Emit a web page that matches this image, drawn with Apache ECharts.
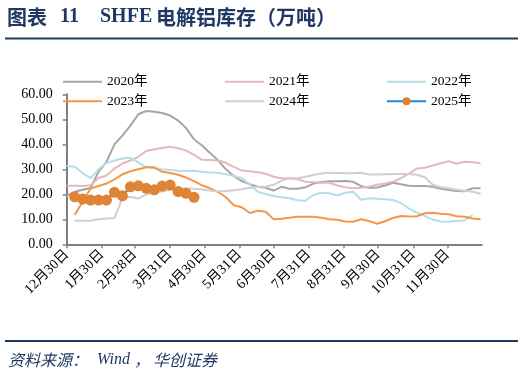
<!DOCTYPE html>
<html><head><meta charset="utf-8">
<script src="https://cdn.jsdelivr.net/npm/echarts@6/dist/echarts.min.js"></script>
<style>html,body{margin:0;padding:0;background:#fff}#c{width:524px;height:376px}</style>
</head><body><div id="c"></div>
<script>
// Weekly observation dates (common calendar grid)
const weekDates = ['2024-12-30','2025-01-06','2025-01-13','2025-01-20','2025-01-27','2025-02-03','2025-02-10','2025-02-17','2025-02-24',
'2025-03-03','2025-03-10','2025-03-17','2025-03-24','2025-03-31','2025-04-07','2025-04-14','2025-04-21','2025-04-28',
'2025-05-05','2025-05-12','2025-05-19','2025-05-26','2025-06-02','2025-06-09','2025-06-16','2025-06-23','2025-06-30',
'2025-07-07','2025-07-14','2025-07-21','2025-07-28','2025-08-04','2025-08-11','2025-08-18','2025-08-25',
'2025-09-01','2025-09-08','2025-09-15','2025-09-22','2025-09-29','2025-10-06','2025-10-13','2025-10-20','2025-10-27',
'2025-11-03','2025-11-10','2025-11-17','2025-11-24','2025-12-01','2025-12-08','2025-12-15','2025-12-22','2025-12-29'];

const tickDates = ['2024-12-30','2025-01-30','2025-02-28','2025-03-31','2025-04-30','2025-05-31','2025-06-30','2025-07-31','2025-08-31','2025-09-30','2025-10-31','2025-11-30'];
const tickLabels = ['12月30日','1月30日','2月28日','3月31日','4月30日','5月31日','6月30日','7月31日','8月31日','9月30日','10月31日','11月30日'];
const yTicks = [0,10,20,30,40,50,60];

const seriesNames = ['2020年','2021年','2022年','2023年','2024年','2025年'];

const y2020 = [19.5,21,21.8,22.5,29,33,40,43.5,47.5,52,53.3,53,52.5,51.5,49.5,46.5,42,39.5,36.5,33.7,30,27.3,25.3,24,23,22.6,21.5,23,22.2,22.2,22.8,24.3,24.9,25.2,25.2,25.3,25,23.3,22.5,22.7,23.5,24.6,24,23.4,23.3,23.3,23,22.2,21.7,21.3,21.2,22.4,22.4];
const y2021 = [23.4,23.4,23.3,23.6,26.5,27.5,30.3,32.3,33.5,35,37.3,38,38.5,39,38.4,37.5,35.8,33.8,33.7,33.5,32.6,31,29.5,29.2,28.8,28.2,27,26.4,26.4,26,25,24.8,24.6,24.6,23.5,22.8,22.4,22.6,23,23.8,24.3,25,26.5,28.3,30.3,30.6,31.5,32.4,33.2,32.2,33,32.8,32.4];
const y2022 = [31.3,31,28.5,26.5,30,32.5,33.5,34.3,34.6,32.8,30.8,30.4,30,29.7,29.4,29.3,29.4,29,28.7,28.6,28,27.3,26.5,23.8,21,20.1,19.3,18.8,18.4,17.6,17.4,19.7,20.6,20.4,19.5,20.6,21,17.8,18.4,18.2,18,17.7,16.5,14.3,12.7,11.3,9.9,9.1,9,9.3,9.5,11.7,null];
const y2023 = [null,11.7,17,22.3,23.3,24.3,26,28,29.2,30,30.8,30.8,29,28.5,27.8,26.7,25.3,23.6,22.4,21,18.8,15.6,14.8,12.5,13.4,13,10,10.2,10.6,11,11,11,10.6,10,9.8,9.1,9,10,9.3,8.2,9.2,10.5,11.3,11.1,11.2,12.4,12.6,12.2,12,11.2,11,10.3,10];
const y2024 = [null,9.4,9.4,9.4,10,10.3,10.5,18.5,19,18.3,20,20.6,21.2,21.8,22.2,22.4,22.2,21.9,21.5,21.2,21.3,21.6,22,22.6,23,23,23.8,25.5,26.4,26.4,27,27.7,28.3,28.6,28.5,28.4,28.4,28.6,27.9,27.9,28,28.1,28.1,28.1,27.8,26.8,23.8,22.8,22.4,21.8,21.4,21,20.2];
const y2025 = [null,19.0,18.1,17.7,17.7,17.7,20.8,19.4,23.0,23.4,22.4,21.8,23.3,23.7,21.1,20.4,18.8];

const seriesValues = [y2020,y2021,y2022,y2023,y2024,y2025];
const lineColors = ['#A6A6A6','#E6B9B8','#B7DEE8','#F79646','#CFCFCF','#1E88E5'];

// daily category axis from 12/30 to next 12/30
const days = [];
{
  const d = new Date(Date.UTC(2024,11,30));
  const end = Date.UTC(2025,11,30);
  while (d.getTime() <= end) { days.push(d.toISOString().slice(0,10)); d.setUTCDate(d.getUTCDate()+1); }
}
const labelMap = {}; tickDates.forEach((t,i)=>labelMap[t]=tickLabels[i]);
const isTick = (idx,val)=> labelMap[val] !== undefined;

const serif = "'Liberation Serif','Noto Sans CJK SC'";
const navy = '#1F3864';
const lineIcon = 'path://M0,0H39V2H0Z';

const series = seriesNames.map((name,k)=>{
  const s = {
    name, type:'line',
    data: seriesValues[k].map((v,i)=>[weekDates[i], v]),
    lineStyle:{color: lineColors[k], width:2},
    itemStyle:{color: lineColors[k]},
    symbol:'none', showSymbol:false, connectNulls:false, z: 2+k, animation:false
  };
  if (k === 5) {
    s.symbol = 'circle'; s.showSymbol = true; s.showAllSymbol = true; s.symbolSize = 11;
    s.itemStyle = {color:'#DF8334'};
    s.lineStyle = {color:'#1E88E5', width:2};
  }
  return s;
});

const legendItem = (name)=> name === '2025年' ? {name} : {name, icon: lineIcon};
const legendBase = (data,left)=>({
  data: data.map(legendItem), left, top:75, orient:'vertical', itemWidth:39, itemHeight:10, itemGap:6,
  symbolKeepAspect:true,
  textStyle:{fontFamily:serif, fontSize:13.5, color:'#000', padding:[0,0,0,0]},
  padding:0
});

const chart = echarts.init(document.getElementById('c'), null, {renderer:'canvas'});
chart.setOption({
  animation:false,
  backgroundColor:'#fff',
  grid:{left:66.7, right:42.3, top:94.3, bottom:131.7},
  legend:[ legendBase(['2020年','2023年'],63), legendBase(['2021年','2024年'],225), legendBase(['2022年','2025年'],386) ],
  xAxis:{
    type:'category', data:days, boundaryGap:false,
    axisLine:{lineStyle:{color:'#7F7F7F', width:2}},
    axisTick:{interval:isTick, length:4, lineStyle:{color:'#7F7F7F', width:1.5}},
    axisLabel:{interval:isTick, rotate:45, margin:8, fontFamily:serif, fontSize:14, color:'#000',
      formatter:(v)=>labelMap[v]||''},
    splitLine:{show:false}
  },
  yAxis:{
    type:'value', min:0, max:60, interval:10,
    axisLine:{show:true, lineStyle:{color:'#7F7F7F', width:2}},
    axisTick:{show:true, length:4, lineStyle:{color:'#7F7F7F', width:1.5}},
    axisLabel:{margin:14, fontFamily:serif, fontSize:14, color:'#000', formatter:(v)=>v.toFixed(2)},
    splitLine:{show:false}
  },
  series,
  graphic:[
    {type:'text', left:7, top:7, style:{text:'图表', font:"bold 20px 'Noto Sans CJK SC'", fill:navy}},
    {type:'text', left:60, top:7, style:{text:'11', font:"bold 20px 'Liberation Serif'", fill:navy}},
    {type:'text', left:100, top:7, style:{text:'SHFE', font:"bold 20px 'Liberation Serif'", fill:navy}},
    {type:'text', left:156, top:7, style:{text:'电解铝库存（万吨）', font:"bold 20px 'Noto Sans CJK SC'", fill:navy}},
    {type:'rect', shape:{x:5, y:37.5, width:513, height:2}, style:{fill:navy}},
    {type:'rect', shape:{x:5, y:340, width:513, height:2}, style:{fill:navy}},
    {type:'text', left:8, top:352, style:{text:'资料来源：', font:"italic 16px 'Noto Sans CJK SC'", fill:navy}},
    {type:'text', left:97, top:352, style:{text:'Wind', font:"italic 16px 'Liberation Serif'", fill:navy}},
    {type:'text', left:134, top:352, style:{text:'，', font:"italic 16px 'Noto Sans CJK SC'", fill:navy}},
    {type:'text', left:153, top:352, style:{text:'华创证券', font:"italic 16px 'Noto Sans CJK SC'", fill:navy}}
  ]
});
</script></body></html>
